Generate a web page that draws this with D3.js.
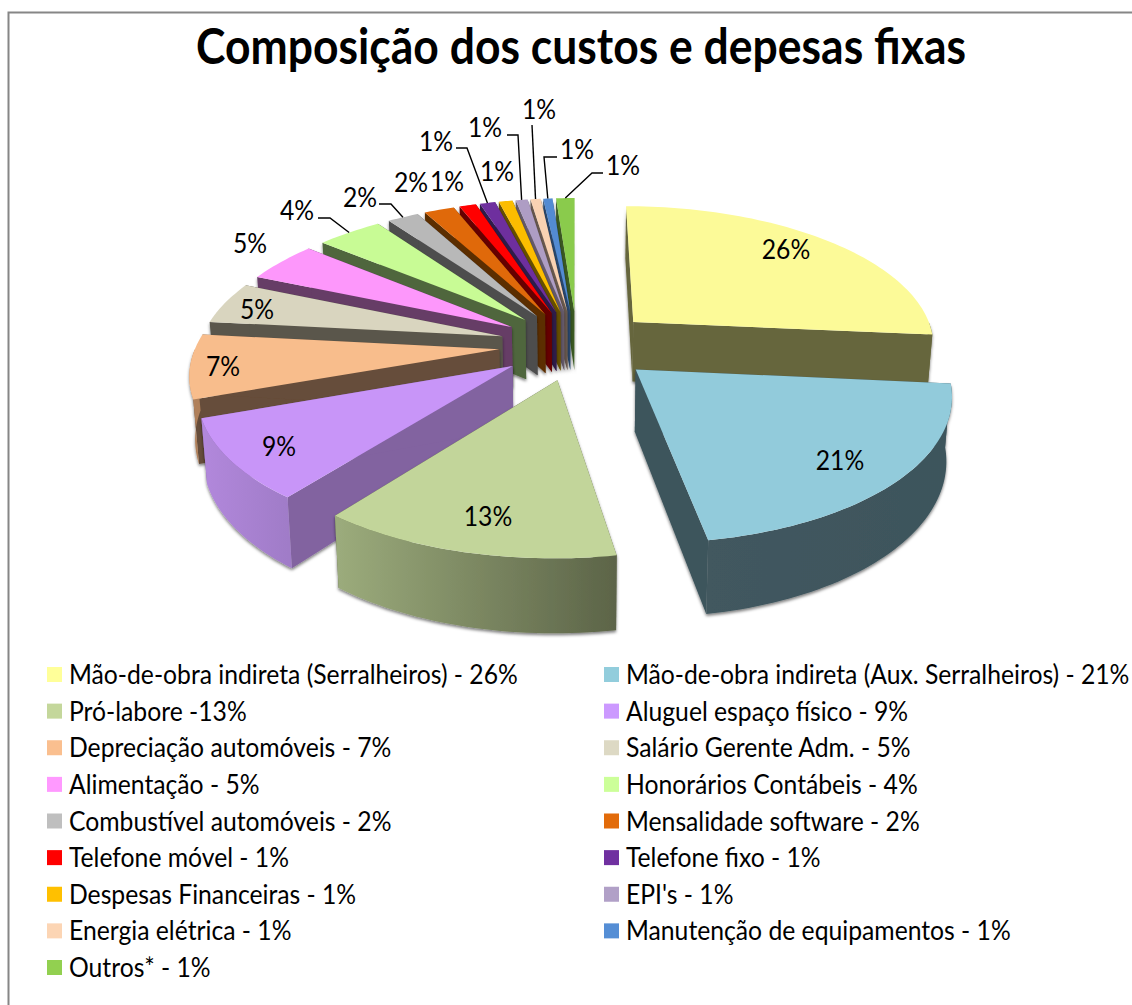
<!DOCTYPE html>
<html>
<head>
<meta charset="utf-8">
<script src="https://d3js.org/d3.v7.min.js"></script>
<style>
  body { margin: 0; background: #fff; }
  svg { display: block; }
  text { font-family: Lato, "Open Sans", sans-serif; fill: #000; }
</style>
</head>
<body>
<svg width="1132" height="1005"></svg>
<script>
'use strict';
// ---- data ----
var categories = ["Mão-de-obra indireta (Serralheiros)", "Mão-de-obra indireta (Aux. Serralheiros)", "Pró-labore", "Aluguel espaço físico", "Depreciação automóveis", "Salário Gerente Adm.", "Alimentação", "Honorários Contábeis", "Combustível automóveis", "Mensalidade software", "Telefone móvel", "Telefone fixo", "Despesas Financeiras", "EPI's", "Energia elétrica", "Manutenção de equipamentos", "Outros*"];
// printed percentages
var percents = [26, 21, 13, 9, 7, 5, 5, 4, 2, 2, 1, 1, 1, 1, 1, 1, 1];
// unrounded shares
var shares = [26.5, 20.8, 13.2, 9.0, 7.2, 4.75, 4.6, 4.1, 1.95, 1.9, 1.05, 0.97, 0.86, 0.75, 0.64, 0.58, 1.16];
var separators = [" - ", " - ", " -", " - ", " - ", " - ", " - ", " - ", " - ", " - ", " - ", " - ", " - ", " - ", " - ", " - ", " - "];

// ---- styles ----
var legendColors = ["#FFFF99", "#92CDDC", "#C4D79B", "#CC99FF", "#FABF8F", "#DDD9C4", "#FF99FF", "#CCFF99", "#BFBFBF", "#E26B0A", "#FF0000", "#7030A0", "#FFC000", "#B1A0C7", "#FCD5B4", "#558ED5", "#92D050"];
var topColors = ["#FCFA98", "#92CBDB", "#C2D59A", "#C895F8", "#F8BD8C", "#D9D5BF", "#FD97FB", "#C8FB95", "#B8B8B8", "#E0690A", "#FF0000", "#6E2F9E", "#FCBD00", "#AE9DC4", "#F9D2B2", "#538BD2", "#8ACB4C"];
var sideColors = ["#66663C", "#3D545C", "#5E6648", "#8263A0", "#664D3A", "#5A574C", "#663C66", "#4F663C", "#4D4D4D", "#5C2E00", "#660000", "#2E1A4A", "#665000", "#655A6A", "#6A5A50", "#2A4A70", "#3A5A22"];
var rimLight = ["#66663C", "#42585F", "#9CAC7C", "#B288DC", "#C8946A", "#5A574C", "#663C66", "#4F663C", "#4D4D4D", "#5C2E00", "#660000", "#2E1A4A", "#665000", "#655A6A", "#6A5A50", "#2A4A70", "#3A5A22"];
var rimDark = ["#66663C", "#3D545C", "#5C6448", "#A07CC8", "#B0805A", "#5A574C", "#663C66", "#4F663C", "#4D4D4D", "#5C2E00", "#660000", "#2E1A4A", "#665000", "#655A6A", "#6A5A50", "#2A4A70", "#3A5A22"];

// label centres and leader bends, these were moved by hand in the original
var labelAt = [[786, 250], [840, 461], [488, 517], [279, 447], [223, 367], [257, 310], [250, 244], [297, 211], [360, 198], [411, 183], [447, 182], [436, 142], [497, 172], [485, 128], [539, 110], [577, 150], [623, 166]];
var leaders = { 7: [[318, 218], [330, 218]], 8: [[379, 204], [391, 204]], 11: [[456, 148], [467, 148]], 13: [[507, 135], [518, 135]], 14: [[532, 125]], 15: [[557, 157], [544, 157]], 16: [[603, 173], [592, 173]] };

var svg = d3.select("svg");
var cx = 577, cy = 345, radiusX = 303, radiusZ = 310, explode = 78, tilt = 0.45, persp = 0.15 / 310, depth = 61, lowerShrink = 0.985;
var textRatio = 0.95;

function project(X, Z, lower) {
  var s = 1 / (1 - persp * Z);
  return [cx + X * s * (lower ? lowerShrink : 1), cy + tilt * Z * s + (lower ? depth * s : 0)];
}
var line = d3.line();

var defs = svg.append("defs");
var shadow = defs.append("filter").attr("id", "shadow").attr("x", "-10%").attr("y", "-10%").attr("width", "120%").attr("height", "120%");
shadow.append("feDropShadow").attr("dx", 0).attr("dy", 2).attr("stdDeviation", 1.6).attr("flood-color", "#000").attr("flood-opacity", 0.5);

// frame
svg.append("path").attr("d", "M8.5,1005V12.5H1132").attr("fill", "none").attr("stroke", "#868686").attr("stroke-width", 2);

// title
svg.append("text").attr("x", 581).attr("y", 64).attr("text-anchor", "middle")
  .attr("font-size", 50).attr("font-weight", 700)
  .attr("textLength", 770).attr("lengthAdjust", "spacingAndGlyphs")
  .text("Composição dos custos e depesas fixas");

// pie
var pie = d3.pie().sort(null).startAngle(0).endAngle(2 * Math.PI);
var arcs = pie(shares).map(function(d, i) {
  var mid = (d.startAngle + d.endAngle) / 2;
  return {
    i: i, start: d.startAngle, end: d.endAngle, mid: mid,
    ax: explode * Math.sin(mid), az: -explode * Math.cos(mid)
  };
});
function rimPoint(a, t, lower) {
  return project(a.ax + radiusX * Math.sin(t), a.az - radiusZ * Math.cos(t), lower);
}
function wallPath(a, t) {
  return line([project(a.ax, a.az, false), rimPoint(a, t, false), rimPoint(a, t, true), project(a.ax, a.az, true)]) + "Z";
}

var pieG = svg.append("g");
arcs.slice().sort(function(p, q) { return p.az - q.az; }).forEach(function(a) {
  var g = pieG.append("g");
  var walls = g.append("g").attr("filter", "url(#shadow)");
  var n = Math.max(6, Math.ceil((a.end - a.start) * 40));

  walls.append("path").attr("d", wallPath(a, a.start)).attr("fill", sideColors[a.i]);
  walls.append("path").attr("d", wallPath(a, a.end)).attr("fill", sideColors[a.i]);

  // outer wall, only the part that faces the viewer
  var from = Math.max(a.start, Math.PI / 2), to = Math.min(a.end, 3 * Math.PI / 2);
  if (to > from) {
    var angles = d3.range(n + 1).map(function(k) { return from + (to - from) * k / n; });
    var upper = angles.map(function(t) { return rimPoint(a, t, false); });
    var lowerPts = angles.map(function(t) { return rimPoint(a, t, true); }).reverse();
    var xs = upper.map(function(p) { return p[0]; });
    var grad = defs.append("linearGradient").attr("id", "rim" + a.i).attr("gradientUnits", "userSpaceOnUse")
      .attr("x1", d3.min(xs)).attr("x2", d3.max(xs)).attr("y1", 0).attr("y2", 0);
    grad.append("stop").attr("offset", 0).attr("stop-color", rimLight[a.i]);
    grad.append("stop").attr("offset", 1).attr("stop-color", rimDark[a.i]);
    walls.append("path").attr("d", line(upper.concat(lowerPts)) + "Z").attr("fill", "url(#rim" + a.i + ")");
  }

  var top = [project(a.ax, a.az, false)];
  d3.range(n + 1).forEach(function(k) { top.push(rimPoint(a, a.start + (a.end - a.start) * k / n, false)); });
  g.append("path").attr("d", line(top) + "Z").attr("fill", topColors[a.i]);
});

// leader lines
Object.keys(leaders).forEach(function(k) {
  var a = arcs[+k];
  var pts = leaders[k].concat([rimPoint(a, a.mid, false)]);
  svg.append("path").attr("d", line(pts)).attr("fill", "none").attr("stroke", "#000").attr("stroke-width", 1.4);
});

function squeeze(sel) {
  sel.each(function() {
    this.setAttribute("textLength", this.getComputedTextLength() * textRatio);
    this.setAttribute("lengthAdjust", "spacingAndGlyphs");
  });
}

// data labels
svg.append("g").selectAll("text").data(percents).enter().append("text")
  .attr("x", function(d, i) { return labelAt[i][0]; })
  .attr("y", function(d, i) { return labelAt[i][1] + 9; })
  .attr("text-anchor", "middle").attr("font-size", 26)
  .text(function(d) { return d + "%"; })
  .call(squeeze);

// legend, filled by row in two columns
var rowY = d3.scalePoint().domain(d3.range(9)).range([675, 968]);
var colX = d3.scaleOrdinal().domain([0, 1]).range([47, 604]);
var legend = svg.append("g").selectAll("g").data(categories).enter().append("g")
  .attr("transform", function(d, i) { return "translate(" + colX(i % 2) + "," + rowY(Math.floor(i / 2)) + ")"; });
legend.append("rect").attr("x", 0).attr("y", -8).attr("width", 15).attr("height", 15)
  .attr("fill", function(d, i) { return legendColors[i]; });
legend.append("text").attr("x", 22).attr("y", 9).attr("font-size", 26)
  .text(function(d, i) { return d + separators[i] + percents[i] + "%"; })
  .call(squeeze);
</script>
</body>
</html>
